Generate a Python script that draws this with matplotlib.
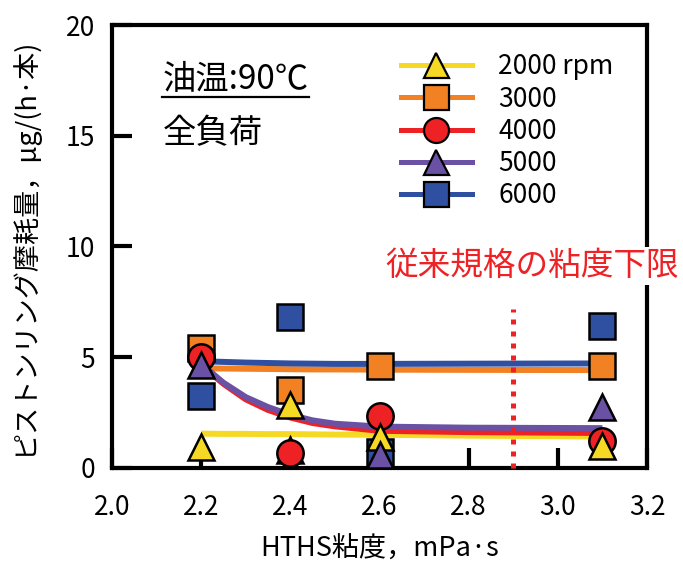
import matplotlib
matplotlib.use("Agg")
import matplotlib.pyplot as plt
from matplotlib.lines import Line2D

plt.rcParams['font.family'] = ['Noto Sans CJK JP', 'DejaVu Sans']

# ---- data ----
hths = [2.2, 2.4, 2.6, 3.1]
labels = ["2000 rpm", "3000", "4000", "5000", "6000"]
wear_2000 = [0.95, 2.85, 1.38, 1.0]
wear_3000 = [5.42, 3.5, 4.6, 4.6]
wear_4000 = [5.0, 0.68, 2.37, 1.2]
wear_5000 = [4.65, 0.8, 0.6, 2.75]
wear_6000 = [3.25, 6.8, 0.7, 6.4]

# trend curves
trend_x = [2.2, 2.25, 2.3, 2.35, 2.4, 2.45, 2.5, 2.6, 2.8, 3.1]
trend_2000 = [1.55, 1.54, 1.54, 1.53, 1.53, 1.52, 1.51, 1.5, 1.46, 1.42]
trend_3000 = [4.5, 4.49, 4.48, 4.47, 4.46, 4.45, 4.45, 4.44, 4.43, 4.42]
trend_4000 = [4.65, 3.8, 3.1, 2.62, 2.28, 2.03, 1.88, 1.68, 1.62, 1.58]
trend_5000 = [4.7, 3.85, 3.2, 2.75, 2.4, 2.15, 2.0, 1.87, 1.82, 1.8]
trend_6000 = [4.82, 4.79, 4.76, 4.74, 4.72, 4.71, 4.7, 4.7, 4.71, 4.72]

limit_x = 2.9
limit_top = 7.2

xticks = [2.0, 2.2, 2.4, 2.6, 2.8, 3.0, 3.2]
yticks = [0, 5, 10, 15, 20]

colors = ['#F5D924', '#F28124', '#EE2125', '#6A51A3', '#2F4FA1']
markers = ['^', 's', 'o', '^', 's']
marker_z = [6, 4, 5, 7, 5.5]

fig = plt.figure(figsize=(6.83, 5.63), dpi=100)
ax = fig.add_axes([112/683, 1-468/563, 535/683, 443/563])

trends = [trend_2000, trend_3000, trend_4000, trend_5000, trend_6000]
line_z = [2.1, 2.2, 2.3, 2.4, 2.5]
for t, c, z in zip(trends, colors, line_z):
    ax.plot(trend_x, t, color=c, lw=4.3, solid_capstyle='butt', zorder=z)

series = [wear_2000, wear_3000, wear_4000, wear_5000, wear_6000]
ms = 19
mew = 1.8
for i, (s, c, m, z) in enumerate(zip(series, colors, markers, marker_z)):
    if i == 3:
        # 5000 rpm point at 2.4 sits behind the 4000 rpm circle
        ax.plot(hths[1:2], s[1:2], ls='none', marker=m, ms=ms, mfc=c,
                mec='black', mew=mew, zorder=4.5)
        xs = [hths[0]] + hths[2:]
        ys = [s[0]] + s[2:]
        ax.plot(xs, ys, ls='none', marker=m, ms=ms, mfc=c,
                mec='black', mew=mew, zorder=z)
    else:
        ax.plot(hths, s, ls='none', marker=m, ms=ms, mfc=c,
                mec='black', mew=mew, zorder=z)

# lower-limit line
ax.plot([limit_x, limit_x], [0, limit_top], color='#EE2125', lw=3.6,
        ls=(0, (1, 1.4)), dash_capstyle='butt', zorder=3, clip_on=False)
ax.text(2.942, 9.1, "従来規格の粘度下限", color='#EE2125', fontsize=23.5,
        ha='center', va='center', zorder=10, clip_on=False,
        bbox=dict(facecolor='white', edgecolor='none', pad=2))

ax.set_xlim(2.0, 3.2)
ax.set_ylim(0, 20)
ax.set_xticks(xticks)
ax.set_xticklabels([f"{v:.1f}" for v in xticks])
ax.set_yticks(yticks)
ax.tick_params(direction='in', length=14.5, width=3, labelsize=19,
               color='black')
ax.tick_params(axis='x', pad=19)
ax.tick_params(axis='y', pad=12)
for sp in ax.spines.values():
    sp.set_linewidth(3)
    sp.set_color('black')

ax.set_xlabel("HTHS粘度，mPa·s", fontsize=19.5, labelpad=10)
ax.set_ylabel("ピストンリング摩耗量，μg/(h·本)", fontsize=19.5, labelpad=20)

# condition notes
ax.text(0.095, 0.876, "油温:90℃", transform=ax.transAxes, fontsize=24,
        ha='left', va='center')
ax.add_line(Line2D([0.093, 0.368], [0.838, 0.838], transform=ax.transAxes,
                   color='black', lw=1.6))
ax.text(0.095, 0.755, "全負荷", transform=ax.transAxes, fontsize=24,
        ha='left', va='center')

handles = [Line2D([], [], color=c, lw=3.6, marker=m, ms=18, mfc=c,
                  mec='black', mew=1.6)
           for c, m in zip(colors, markers)]
ax.legend(handles, labels, loc='upper left', bbox_to_anchor=(0.52, 0.96),
          frameon=False, fontsize=19, handlelength=2.7, handletextpad=1.0,
          labelspacing=0.2, borderaxespad=0)

fig.savefig("out.png", dpi=100)
